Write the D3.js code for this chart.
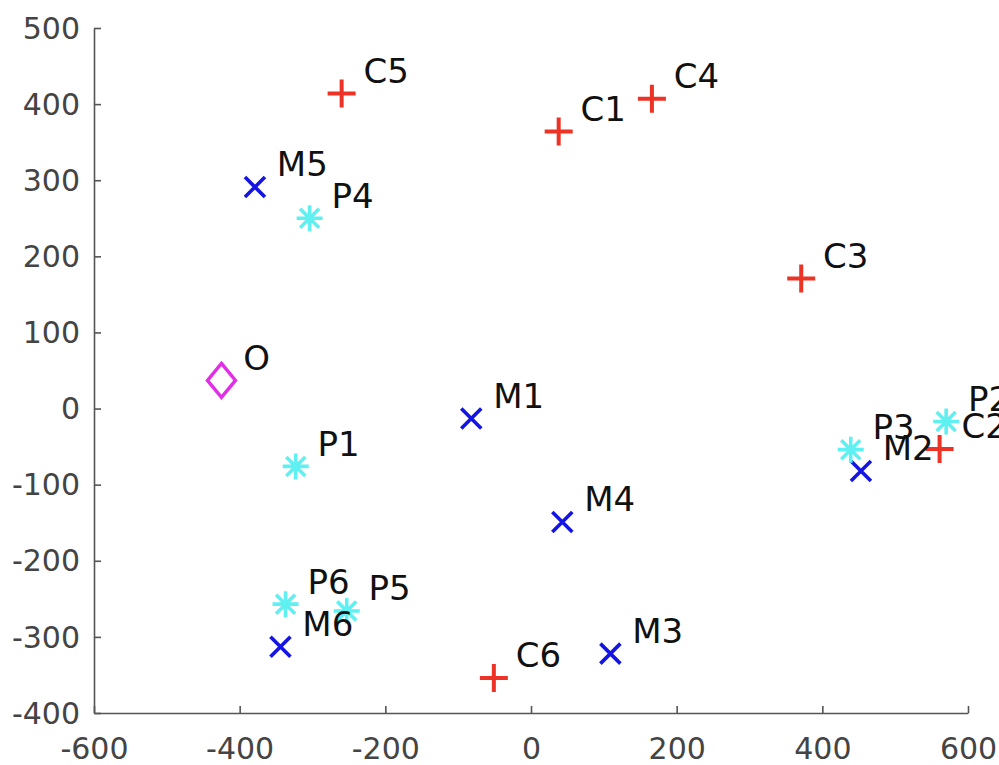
<!DOCTYPE html>
<html>
<head>
<meta charset="utf-8">
<script src="https://cdn.jsdelivr.net/npm/d3@7.9.0/dist/d3.min.js"></script>
<style>
  html, body { margin: 0; padding: 0; background: #fff; }
  svg { display: block; font-family: "DejaVu Sans", sans-serif; }
</style>
</head>
<body>
<svg id="chart" width="999" height="765"></svg>
<script>
// ---- data ----
const labels  = ["C1", "C2", "C3", "C4", "C5", "C6",
                 "M1", "M2", "M3", "M4", "M5", "M6",
                 "P1", "P2", "P3", "P4", "P5", "P6",
                 "O"];
const groups  = ["C", "C", "C", "C", "C", "C",
                 "M", "M", "M", "M", "M", "M",
                 "P", "P", "P", "P", "P", "P",
                 "O"];
const xValues = [38, 561, 371, 166, -260, -51,
                 -82, 453, 109, 43, -379, -344,
                 -323, 570, 439, -304, -253, -337,
                 -425];
const yValues = [364, -53, 171, 407, 414, -354,
                 -13, -82, -322, -149, 291, -313,
                 -76, -17, -54, 250, -266, -257,
                 37];
const xTicks = [-600, -400, -200, 0, 200, 400, 600];
const yTicks = [-400, -300, -200, -100, 0, 100, 200, 300, 400, 500];
const labelOffset = 30; // text placed at (x+30, y+30)

const points = labels.map((l, i) => ({ label: l, group: groups[i], x: xValues[i], y: yValues[i] }));

// ---- layout ----
const svg = d3.select("#chart");
const m = { left: 94, right: 968, top: 28, bottom: 713 };

const x = d3.scaleLinear().domain([-600, 600]).range([m.left, m.right]);
const y = d3.scaleLinear().domain([-400, 500]).range([m.bottom, m.top]);

const axisColor = "#555";
const tickColor = "#444";
const plainNum = d => String(d); // hyphen minus, like the original

// axes (ticks pointing inward, MATLAB style)
const gx = svg.append("g").attr("transform", `translate(0,${m.bottom})`)
  .call(d3.axisBottom(x).tickValues(xTicks).tickFormat(plainNum)
    .tickSizeInner(-7).tickSizeOuter(0).tickPadding(25));
const gy = svg.append("g").attr("transform", `translate(${m.left},0)`)
  .call(d3.axisLeft(y).tickValues(yTicks).tickFormat(plainNum)
    .tickSizeInner(-7).tickSizeOuter(0).tickPadding(14));

[gx, gy].forEach(g => {
  g.select(".domain").attr("stroke", axisColor).attr("stroke-width", 1.6);
  g.selectAll(".tick line").attr("stroke", axisColor).attr("stroke-width", 1.6);
  g.selectAll(".tick text")
    .attr("fill", tickColor)
    .style("font-size", "30px")
    .style("font-family", "'DejaVu Sans', sans-serif");
});
gy.selectAll(".tick text").attr("dy", "0.34em");

// ---- marker shapes ----
function markerPath(group) {
  const p = d3.path();
  if (group === "C") {            // plus
    const s = 14;
    p.moveTo(-s, 0); p.lineTo(s, 0);
    p.moveTo(0, -s); p.lineTo(0, s);
  } else if (group === "M") {     // cross
    const s = 10;
    p.moveTo(-s, -s); p.lineTo(s, s);
    p.moveTo(-s, s); p.lineTo(s, -s);
  } else if (group === "P") {     // asterisk
    const s = 13, d = 9.5;
    p.moveTo(-s, 0); p.lineTo(s, 0);
    p.moveTo(0, -s); p.lineTo(0, s);
    p.moveTo(-d, -d); p.lineTo(d, d);
    p.moveTo(-d, d); p.lineTo(d, -d);
  } else {                        // diamond
    const w = 14, h = 17;
    p.moveTo(0, -h); p.lineTo(w, 0); p.lineTo(0, h); p.lineTo(-w, 0); p.closePath();
  }
  return p.toString();
}

const color = d3.scaleOrdinal()
  .domain(["C", "M", "P", "O"])
  .range(["#ec3325", "#1414e4", "#5ff0f2", "#e22ee6"]);

const strokeW = { C: 4, M: 3.6, P: 3.6, O: 3.4 };

// draw markers
svg.append("g").selectAll("path.marker")
  .data(points)
  .enter()
  .append("path")
  .attr("class", "marker")
  .attr("transform", d => `translate(${x(d.x)},${y(d.y)})`)
  .attr("d", d => markerPath(d.group))
  .attr("fill", "none")
  .attr("stroke", d => color(d.group))
  .attr("stroke-width", d => strokeW[d.group])
  .attr("stroke-linejoin", "miter");

// labels
svg.append("g").selectAll("text.lbl")
  .data(points)
  .enter()
  .append("text")
  .attr("class", "lbl")
  .attr("x", d => x(d.x + labelOffset))
  .attr("y", d => y(d.y + labelOffset))
  .attr("dy", "0.36em")
  .attr("fill", "#111")
  .style("font-size", "34px")
  .text(d => d.label);
</script>
</body>
</html>
